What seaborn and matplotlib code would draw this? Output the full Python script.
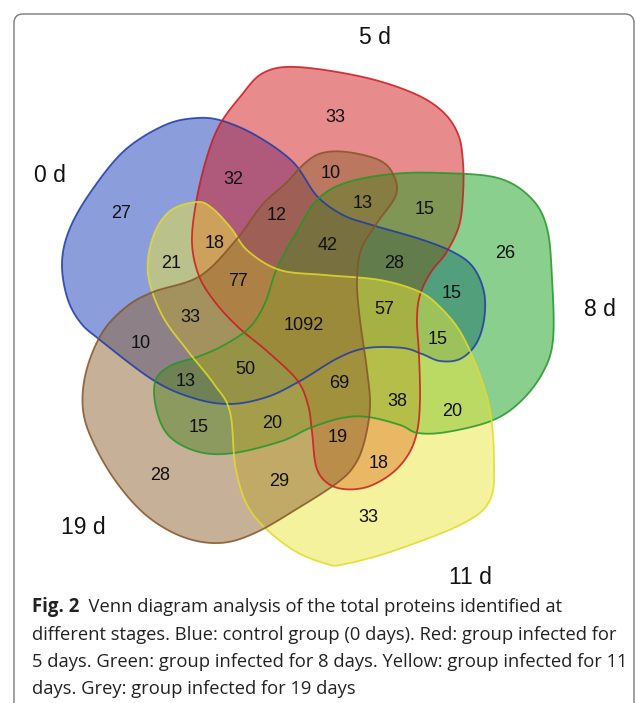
import numpy as np
import matplotlib
matplotlib.use("Agg")
import matplotlib.pyplot as plt
from matplotlib.patches import Polygon, FancyBboxPatch
import seaborn as sns

# ---------------- data ----------------
set_names = ["0 d", "5 d", "8 d", "11 d", "19 d"]
set_colors = ["#1a3cb8", "#d3191d", "#17a11d", "#ebe63d", "#8f6432"]
edge_colors = ["#1e3aa8", "#cc1a20", "#24962a", "#e0dc2a", "#855528"]

region_counts = [27, 33, 26, 33, 28,
                 32, 10, 13, 15, 12, 18, 21, 42, 28, 15, 77, 33, 1092, 57, 15,
                 10, 50, 69, 13, 38, 20, 15, 20, 19, 18, 29]

caption_bold = "Fig. 2"
caption_lines = [
    "  Venn diagram analysis of the total proteins identified at",
    "different stages. Blue: control group (0 days). Red: group infected for",
    "5 days. Green: group infected for 8 days. Yellow: group infected for 11",
    "days. Grey: group infected for 19 days",
]

# ---------------- layout (pixel coordinates) ----------------
outlines = [
    # blue (0 d)
    [(197,118),(223,121),(257,136),(293,162),(317,196),(343,215),(372,225),(420,239),
     (453,252),(473,267),(484,292),(484,320),(476,344),(460,359),(440,361),(422,354),
     (403,348),(367,348),(338,358),(300,381),(267,397),(230,404),(193,398),(153,380),
     (100,340),(80,322),(67,297),(62,262),(70,228),(92,190),(125,150),(165,125)],
    # red (5 d)
    [(297,67),(363,77),(413,93),(442,111),(458,134),(463,162),(463,195),(459,226),
     (446,253),(431,272),(420,295),(417,320),(419,355),(420,400),(417,432),(408,455),
     (391,474),(367,487),(343,489),(326,482),(316,466),(312,432),(308,405),(297,380),
     (268,352),(238,327),(215,302),(199,276),(192,243),(196,203),(206,160),(219,126),
     (240,97),(263,73)],
    # green (8 d)
    [(345,183),(392,174),(442,173),(498,178),(531,198),(547,228),(552,278),(553,340),
     (542,374),(519,403),(491,421),(447,432),(418,433),(400,425),(368,417),(342,418),
     (310,428),(282,441),(234,453),(199,452),(170,437),(157,412),(155,382),(170,366),
     (200,356),(226,344),(250,327),(265,303),(277,268),(296,233),(317,200)],
    # yellow (11 d)
    [(327,564),(290,548),(252,513),(236,470),(230,412),(214,384),(187,350),(162,315),
     (148,274),(153,237),(170,211),(197,202),(212,208),(231,228),(248,251),(280,270),
     (325,275),(380,280),(420,292),(442,309),(461,333),(478,370),(490,410),(494,460),
     (490,500),(462,524),(393,551),(345,564)],
    # brown (19 d)
    [(86,372),(83,410),(94,444),(117,483),(147,516),(183,537),(220,543),(255,533),
     (300,507),(337,483),(354,466),(364,443),(370,407),(367,370),(360,320),(357,282),
     (361,250),(377,223),(396,195),(393,174),(379,160),(347,152),(322,153),(305,163),
     (286,183),(262,205),(236,240),(200,276),(153,292),(126,307),(102,333)],
]

set_label_pos = [(50,175),(375,38),(600,310),(470,578),(83,528)]

region_pos = [(121,214),(335,117),(505,253),(368,517),(160,475),
              (233,180),(331,173),(363,203),(425,210),(277,215),(215,243),(171,263),
              (328,245),(394,263),(452,293),(238,282),(190,318),(304,325),(384,310),
              (438,340),(141,343),(245,369),(339,384),(186,382),(397,401),(452,412),
              (199,427),(272,423),(338,438),(379,463),(279,481)]


def smooth(pts, n=24):
    P = np.asarray(pts, float)
    N = len(P)
    t = np.linspace(0, 1, n, endpoint=False)[:, None]
    segs = []
    for i in range(N):
        p0, p1, p2, p3 = P[i - 1], P[i], P[(i + 1) % N], P[(i + 2) % N]
        segs.append(0.5 * (2 * p1 + (-p0 + p2) * t
                           + (2 * p0 - 5 * p1 + 4 * p2 - p3) * t ** 2
                           + (-p0 + 3 * p1 - 3 * p2 + p3) * t ** 3))
    return np.vstack(segs)


sns.set_theme(style="white")
plt.rcParams["font.family"] = ["Liberation Sans", "DejaVu Sans"]

W, H = 636, 703
fig = plt.figure(figsize=(W / 100, H / 100), dpi=100)
ax = fig.add_axes([0, 0, 1, 1])
ax.set_xlim(0, W)
ax.set_ylim(H, 0)
ax.axis("off")

# frame
box = FancyBboxPatch((14, 14), 620, 720, boxstyle="round,pad=0,rounding_size=9",
                     fc="none", ec="#7a7a7a", lw=1.0)
ax.add_patch(box)

for pts, fc in zip(outlines, set_colors):
    xy = smooth(pts)
    ax.add_patch(Polygon(xy, closed=True, fc=fc, ec="none", alpha=0.5))
for pts, ec in zip(outlines, edge_colors):
    xy = smooth(pts)
    ax.add_patch(Polygon(xy, closed=True, fc="none", ec=ec, lw=1.3, alpha=0.85))

for name, (x, y) in zip(set_names, set_label_pos):
    ax.text(x, y, name, ha="center", va="center", fontsize=16.5, color="#111111")

for v, (x, y) in zip(region_counts, region_pos):
    ax.text(x, y, str(v), ha="center", va="center", fontsize=13, color="#111111")

# caption
cap_font = ["Open Sans", "DejaVu Sans"]
x0, y0, dy = 32, 607, 27.5
t = ax.text(x0, y0, caption_bold, ha="left", va="center", fontsize=13.4,
            fontweight="bold", family=cap_font, color="#222222")
fig.canvas.draw()
bb = t.get_window_extent()
x_after = bb.x1 / fig.dpi * 100
ax.text(x_after, y0, caption_lines[0], ha="left", va="center", fontsize=13.2,
        family=cap_font, color="#222222")
for i, line in enumerate(caption_lines[1:], start=1):
    ax.text(x0, y0 + i * dy, line, ha="left", va="center", fontsize=13.2,
            family=cap_font, color="#222222")

fig.savefig("out.png", dpi=100)
